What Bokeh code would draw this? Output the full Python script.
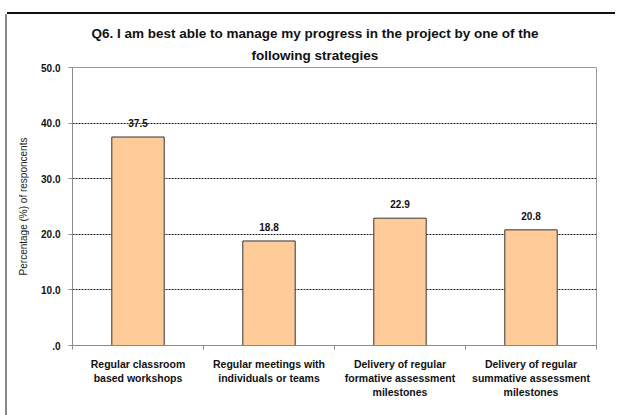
from bokeh.plotting import figure
from bokeh.models import (ColumnDataSource, FixedTicker, LabelSet, Range1d, Title)
from bokeh.core.properties import value
from bokeh.embed import file_html
from bokeh.resources import INLINE

# ---- data ----
categories = [
    "Regular classroom\nbased workshops",
    "Regular meetings with\nindividuals or teams",
    "Delivery of regular\nformative assessment\nmilestones",
    "Delivery of regular\nsummative assessment\nmilestones",
]
values = [37.5, 18.8, 22.9, 20.8]
y_ticks = [0, 10, 20, 30, 40, 50]
y_tick_labels = [".0", "10.0", "20.0", "30.0", "40.0", "50.0"]
title_lines = ["Q6. I am best able to manage my progress in the project by one of the",
               "following strategies"]
y_label = "Percentage (%) of responcents"

FONT = "Liberation Sans"

xs = [i + 0.5 for i in range(len(categories))]
source = ColumnDataSource(dict(x=xs, top=values,
                               label=["%.1f" % v for v in values]))

p = figure(width=608, height=401, output_backend="svg", toolbar_location=None,
           title=None,
           x_range=Range1d(0, len(categories)), y_range=Range1d(0, 50),
           min_border_left=65, min_border_right=19, min_border_top=53,
           min_border_bottom=70)
p.margin = (14, 0, 0, 7)
p.styles = {"box-shadow": "-2px 0 0 #8a8a8a, 0 -2px 0 #111"}

p.vbar(x="x", top="top", width=0.4, bottom=0, source=source,
       fill_color="#FFCC99", line_color="#333333", line_width=1)

labels = LabelSet(x="x", y="top", text="label", source=source,
                  text_align="center", text_baseline="bottom", y_offset=10,
                  text_font=value(FONT), text_font_size="10px",
                  text_font_style="bold", text_color="#111111")
p.add_layout(labels)

# title (two lines, added from the frame outward)
title_offsets = [19, 179]
title_standoffs = [0, 10]
for line, off, so in reversed(list(zip(title_lines, title_offsets, title_standoffs))):
    t = Title(text=line, align="left", offset=off, text_font=FONT,
              text_font_size="13.5px", text_font_style="bold",
              text_color="#111111", standoff=so)
    p.add_layout(t, "above")

# y axis
yax = p.yaxis[0]
yax.ticker = FixedTicker(ticks=y_ticks)
yax.major_label_overrides = {t: l for t, l in zip(y_ticks, y_tick_labels)}
yax.major_label_text_font = FONT
yax.major_label_text_font_size = "10px"
yax.major_label_text_font_style = "bold"
yax.major_label_text_color = "#111111"
yax.major_label_standoff = 8
yax.axis_line_color = "#8a8a8a"
yax.major_tick_line_color = "#8a8a8a"
yax.major_tick_in = 0
yax.major_tick_out = 4
yax.minor_tick_line_color = None
yax.axis_label = y_label
yax.axis_label_text_font = FONT
yax.axis_label_text_font_size = "10px"
yax.axis_label_text_font_style = "normal"
yax.axis_label_text_color = "#222222"
yax.axis_label_standoff = 9

# x axis
xax = p.xaxis[0]
xax.ticker = FixedTicker(ticks=xs, minor_ticks=list(range(len(categories) + 1)))
xax.major_label_overrides = {x: c for x, c in zip(xs, categories)}
xax.major_label_text_font = FONT
xax.major_label_text_font_size = "10.5px"
xax.major_label_text_font_style = "bold"
xax.major_label_text_color = "#111111"
xax.major_label_standoff = 6
xax.axis_line_color = "#8a8a8a"
xax.major_tick_line_color = None
xax.minor_tick_line_color = "#8a8a8a"
xax.minor_tick_in = 0
xax.minor_tick_out = 4

# grid
p.xgrid.grid_line_color = None
p.ygrid.ticker = FixedTicker(ticks=y_ticks[1:-1])
p.ygrid.grid_line_color = "#222222"
p.ygrid.grid_line_dash = "2 1"
p.ygrid.grid_line_width = 1

p.outline_line_color = "#9a9a9a"
p.outline_line_width = 1
p.background_fill_color = "white"
p.border_fill_color = "white"

open("out.html", "w").write(file_html(p, INLINE))
